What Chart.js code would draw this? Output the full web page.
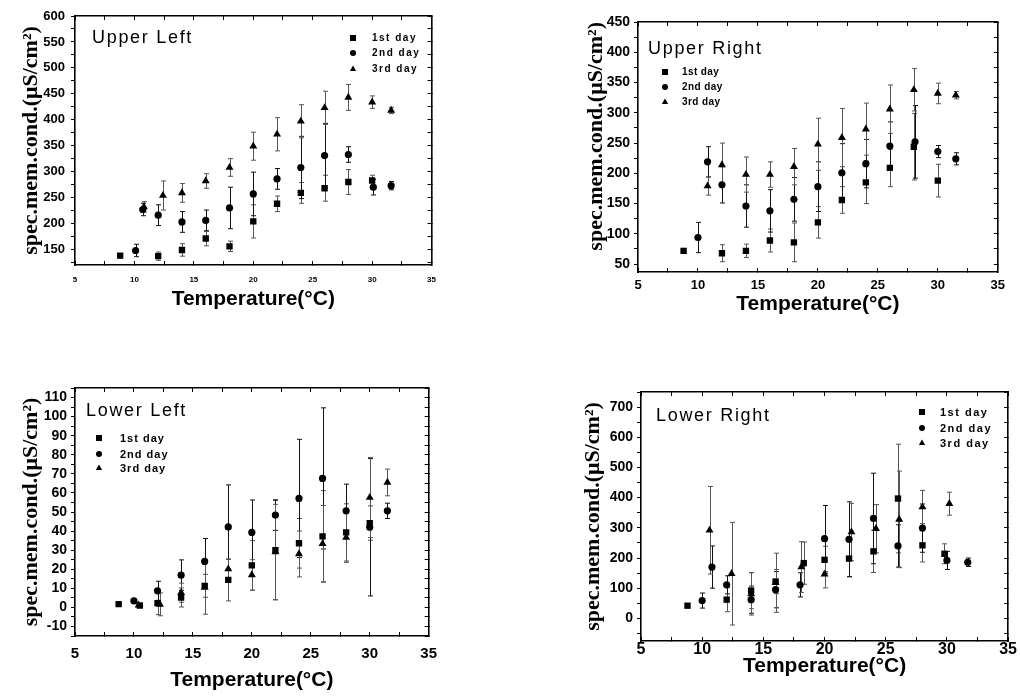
<!DOCTYPE html>
<html>
<head>
<meta charset="utf-8">
<script src="https://cdn.jsdelivr.net/npm/chart.js@4.4.0/dist/chart.umd.min.js"></script>
<style>
  html, body { margin: 0; padding: 0; background: #fff; }
  body { width: 1020px; height: 696px; overflow: hidden; position: relative; }
  canvas { position: absolute; }
</style>
</head>
<body>
<canvas id="ul" width="450" height="330" style="left:0px;top:0px;width:450px;height:330px"></canvas>
<canvas id="ur" width="460" height="340" style="left:555px;top:0px;width:460px;height:340px"></canvas>
<canvas id="ll" width="450" height="326" style="left:0px;top:370px;width:450px;height:326px"></canvas>
<canvas id="lr" width="465" height="326" style="left:555px;top:370px;width:465px;height:326px"></canvas>
<script>
// ---------------- DATA ----------------
const seriesNames = ['1st day', '2nd day', '3rd day'];
const panelNames = ['Upper Left', 'Upper Right', 'Lower Left', 'Lower Right'];
const xTitle = 'Temperature(°C)';
const yTitle = 'spec.mem.cond.(μS/cm²)';
const xTickLabels = [5, 10, 15, 20, 25, 30, 35];
const ulYTicks = [150, 200, 250, 300, 350, 400, 450, 500, 550, 600];
const urYTicks = [50, 100, 150, 200, 250, 300, 350, 400, 450];
const llYTicks = [-10, 0, 10, 20, 30, 40, 50, 60, 70, 80, 90, 100, 110];
const lrYTicks = [0, 100, 200, 300, 400, 500, 600, 700];

// Upper Left
const ulT1 = [8.8, 12, 14, 16, 18, 20, 22, 24, 26, 28, 30];
const ulY1 = [138, 137, 149, 171, 156, 204, 238, 259, 268, 280, 283];
const ulE1 = [4, 8, 12, 14, 10, 32, 15, 20, 25, 24, 10];
const ulT2 = [10.1, 10.7, 12, 14, 16, 18, 20, 22, 24, 26, 28, 30.1, 31.6];
const ulY2 = [148, 227, 216, 203, 206, 230, 257, 286, 308, 331, 333, 270, 273];
const ulE2 = [12, 12, 20, 20, 20, 40, 42, 20, 60, 62, 15, 15, 8];
const ulT3 = [10.8, 12.4, 14, 16, 18, 20, 22, 24, 26, 28, 30, 31.6];
const ulY3 = [232, 254, 259, 282, 308, 349, 372, 397, 423, 443, 434, 418];
const ulE3 = [10, 28, 18, 14, 17, 27, 32, 32, 32, 25, 12, 6];

// Upper Right
const urT1 = [8.8, 12, 14, 16, 18, 20, 22, 24, 26, 28, 30];
const urY1 = [72, 68, 72, 89, 86, 119, 156, 185, 209, 244, 188];
const urE1 = [4, 14, 11, 19, 32, 26, 22, 35, 31, 55, 27];
const urT2 = [10, 10.8, 12, 14, 16, 18, 20, 22, 24, 26, 28.1, 30, 31.5];
const urY2 = [94, 219, 181, 146, 138, 157, 178, 201, 216, 245, 252, 236, 224];
const urE2 = [25, 25, 30, 35, 35, 36, 41, 48, 40, 40, 60, 10, 10];
const urT3 = [10.8, 12, 14, 16, 18, 20, 22, 24, 26, 28, 30, 31.5];
const urY3 = [179, 214, 198, 198, 211, 248, 259, 273, 306, 338, 332, 329];
const urE3 = [15, 36, 29, 21, 30, 43, 48, 43, 40, 35, 17, 6];

// Lower Left
const llT1 = [8.7, 10.5, 12, 14, 16, 18, 20, 22, 24, 26, 28, 30];
const llY1 = [1.7, 1, 2.2, 5.2, 11.3, 14.4, 22, 30, 33.6, 37.2, 39.3, 44.2];
const llE1 = [0.5, 0.8, 6, 5, 6, 11, 13, 26, 13, 24, 15, 9];
const llT2 = [10, 12, 14, 16, 18, 20, 22, 24, 26, 28, 30, 31.5];
const llY2 = [3.4, 8.7, 16.9, 24.1, 42.2, 39.3, 48.4, 57.1, 67.6, 50.6, 42, 50.6];
const llE2 = [1, 5, 8, 12, 22, 17, 8, 31, 37, 14, 36, 4];
const llT3 = [10.4, 12.2, 14, 16, 18, 20, 22, 24, 26, 28, 30, 31.5];
const llY3 = [1.2, 1.6, 7.7, 10.4, 20.1, 17, 29, 28, 33.4, 36.6, 57.6, 65.5];
const llE3 = [0.6, 6, 5, 14, 5, 8, 25, 12, 20, 13, 21, 7];

// Lower Right
const lrT1 = [8.8, 12, 14, 16, 18.3, 20, 22, 24, 26, 28, 29.8];
const lrY1 = [42, 62, 92, 122, 183, 194, 198, 222, 397, 242, 214];
const lrE1 = [4, 40, 60, 40, 70, 45, 60, 70, 180, 55, 33];
const lrT2 = [10, 10.8, 12, 14, 16, 18, 20, 22, 24, 26, 28, 30, 31.7];
const lrY2 = [59, 170, 111, 62, 95, 111, 264, 262, 331, 240, 299, 192, 186];
const lrE2 = [25, 70, 30, 45, 60, 40, 110, 124, 150, 70, 80, 30, 14];
const lrT3 = [10.6, 12.4, 14, 16, 18.1, 20, 22.2, 24.2, 26.1, 28, 30.2];
const lrY3 = [292, 148, 81, 118, 170, 146, 286, 297, 328, 369, 380];
const lrE3 = [145, 170, 70, 98, 84, 45, 95, 80, 160, 55, 38];

// ---------------- RENDERING ----------------
Chart.defaults.font.family = '"Liberation Sans", Arial, sans-serif';
Chart.defaults.color = '#000';
Chart.defaults.animation = false;

const SANS = '"Liberation Sans", Arial, sans-serif';
const SERIF = '"Liberation Serif", "Times New Roman", serif';
const styles = ['rect', 'circle', 'triangle'];
const radii = [4.5, 3.6, 4.6];

function zip(xs, ys) { return xs.map((x, i) => ({ x: x, y: ys[i] })); }

function tickBuilder(majors, minorStep) {
  return function (scale) {
    const set = new Set();
    const start = Math.ceil(scale.min / minorStep - 1e-9) * minorStep;
    for (let v = start; v <= scale.max + 1e-9; v += minorStep) set.add(+v.toFixed(6));
    majors.forEach(m => set.add(m));
    scale.ticks = [...set].sort((a, b) => a - b).map(v => ({ value: v }));
  };
}

function drawMarker(ctx, style, x, y, r) {
  ctx.beginPath();
  if (style === 'rect') {
    ctx.rect(x - r, y - r, 2 * r, 2 * r);
  } else if (style === 'circle') {
    ctx.arc(x, y, r, 0, Math.PI * 2);
  } else {
    ctx.moveTo(x, y - r * 1.2);
    ctx.lineTo(x + r * 1.05, y + r * 0.7);
    ctx.lineTo(x - r * 1.05, y + r * 0.7);
    ctx.closePath();
  }
  ctx.fill();
}

const errorBars = {
  id: 'errorBars',
  beforeDatasetsDraw(chart) {
    const ctx = chart.ctx;
    const ys = chart.scales.y;
    ctx.save();
    ctx.lineWidth = 1;
    chart.data.datasets.forEach((ds, di) => {
      const meta = chart.getDatasetMeta(di);
      ctx.strokeStyle = di === 1 ? '#111' : '#555';
      ds.data.forEach((p, i) => {
        const e = ds.errors[i];
        const el = meta.data[i];
        const x = Math.round(el.x) + 0.5;
        const yt = ys.getPixelForValue(p.y + e);
        const yb = ys.getPixelForValue(p.y - e);
        ctx.beginPath();
        ctx.moveTo(x, yt); ctx.lineTo(x, yb);
        ctx.moveTo(x - 2.5, yt); ctx.lineTo(x + 2.5, yt);
        ctx.moveTo(x - 2.5, yb); ctx.lineTo(x + 2.5, yb);
        ctx.stroke();
      });
    });
    ctx.restore();
  }
};

const panelText = {
  id: 'panelText',
  afterDraw(chart, args, o) {
    const ctx = chart.ctx;
    ctx.save();
    ctx.fillStyle = '#000';
    ctx.font = '18px ' + SANS;
    if ('letterSpacing' in ctx) ctx.letterSpacing = '1.7px';
    ctx.textAlign = 'left';
    ctx.textBaseline = 'alphabetic';
    ctx.fillText(o.label, o.labelX, o.labelY);
    ctx.font = 'bold ' + o.legendFont + 'px ' + SANS;
    if ('letterSpacing' in ctx) ctx.letterSpacing = o.legendSpacing + 'px';
    ctx.textBaseline = 'middle';
    chart.data.datasets.forEach((ds, i) => {
      const y = o.legendY[i];
      drawMarker(ctx, ds.pointStyle, o.legendSymX, y, 3);
      ctx.fillText(ds.label, o.legendTextX, y + 0.5);
    });
    ctx.restore();
  }
};

function makePanel(id, p) {
  const datasets = p.series.map((s, i) => ({
    label: seriesNames[i],
    data: zip(s[0], s[1]),
    errors: s[2],
    pointStyle: styles[i],
    pointRadius: radii[i],
    pointHoverRadius: radii[i],
    backgroundColor: '#000',
    borderColor: '#000',
    borderWidth: 0,
    showLine: false
  }));
  const xMajors = xTickLabels;
  const gridBase = { drawOnChartArea: false, color: '#000', tickColor: '#000', lineWidth: 1 };
  const border = { display: true, color: '#000', width: 1.6 };
  new Chart(document.getElementById(id), {
    type: 'scatter',
    data: { datasets: datasets },
    options: {
      responsive: false,
      animation: false,
      events: [],
      layout: { padding: { top: p.padTop, right: p.padRight, left: 0, bottom: 0 } },
      plugins: {
        legend: { display: false },
        tooltip: { enabled: false },
        panelText: p.text
      },
      scales: {
        x: {
          type: 'linear', position: 'bottom', min: 5, max: 35,
          afterBuildTicks: tickBuilder(xMajors, 2.5),
          afterFit: s => { s.height = p.xAxisH; },
          border: border,
          grid: Object.assign({}, gridBase, { tickLength: -4 }),
          ticks: {
            autoSkip: false, maxRotation: 0, padding: p.xTickPad,
            font: { size: p.xTickFont, weight: 'bold' },
            callback: v => xMajors.includes(v) ? String(v) : ''
          },
          title: {
            display: true, text: xTitle,
            font: { size: 21, weight: 'bold', family: SANS },
            padding: { top: 0, bottom: p.xTitlePad }
          }
        },
        x2: {
          type: 'linear', position: 'top', min: 5, max: 35,
          afterBuildTicks: tickBuilder(xMajors, 2.5),
          afterFit: s => { s.height = 0; },
          border: border,
          grid: Object.assign({}, gridBase, { tickLength: -4 }),
          ticks: { display: false }
        },
        y: {
          type: 'linear', position: 'left', min: p.yMin, max: p.yMax,
          afterBuildTicks: tickBuilder(p.yMajors, p.yMinor),
          afterFit: s => { s.width = p.yAxisW; },
          border: border,
          grid: Object.assign({}, gridBase, { tickLength: 4 }),
          ticks: {
            autoSkip: false, padding: p.yTickPad,
            font: { size: p.yTickFont, weight: 'bold' },
            callback: v => p.yMajors.includes(v) ? String(v) : ''
          },
          title: {
            display: true, text: yTitle, align: p.yTitleAlign,
            font: { size: 22, weight: 'bold', family: SERIF },
            padding: { top: p.yTitlePad, bottom: 0 }
          }
        },
        y2: {
          type: 'linear', position: 'right', min: p.yMin, max: p.yMax,
          afterBuildTicks: tickBuilder(p.yMajors, p.yMinor),
          afterFit: s => { s.width = 0; },
          border: border,
          grid: Object.assign({}, gridBase, { tickLength: -4 }),
          ticks: { display: false }
        }
      }
    },
    plugins: [errorBars, panelText]
  });
}

makePanel('ul', {
  series: [[ulT1, ulY1, ulE1], [ulT2, ulY2, ulE2], [ulT3, ulY3, ulE3]],
  yMin: 120, yMax: 600, yMajors: ulYTicks, yMinor: 25,
  padTop: 16, padRight: 9, yAxisW: 75, xAxisH: 65,
  xTickPad: 14, xTickFont: 8, yTickPad: 6, yTickFont: 13,
  xTitlePad: 18, yTitlePad: 18, yTitleAlign: 'center',
  text: { label: panelNames[0], labelX: 92, labelY: 43, legendFont: 10, legendSpacing: 1.5,
          legendSymX: 353, legendTextX: 372, legendY: [38, 53, 69] }
});

makePanel('ur', {
  series: [[urT1, urY1, urE1], [urT2, urY2, urE2], [urT3, urY3, urE3]],
  yMin: 37, yMax: 450, yMajors: urYTicks, yMinor: 25,
  padTop: 22, padRight: 13, yAxisW: 83, xAxisH: 68,
  xTickPad: 10, xTickFont: 13, yTickPad: 4, yTickFont: 14,
  xTitlePad: 23, yTitlePad: 28, yTitleAlign: 'end',
  text: { label: panelNames[1], labelX: 648 - 555, labelY: 54, legendFont: 10, legendSpacing: 0.4,
          legendSymX: 665 - 555, legendTextX: 682 - 555, legendY: [72, 87, 102] }
});

makePanel('ll', {
  series: [[llT1, llY1, llE1], [llT2, llY2, llE2], [llT3, llY3, llE3]],
  yMin: -15, yMax: 115, yMajors: llYTicks, yMinor: 5,
  padTop: 18, padRight: 10, yAxisW: 75, xAxisH: 60,
  xTickPad: 13, xTickFont: 15, yTickPad: 4, yTickFont: 14,
  xTitlePad: 3, yTitlePad: 18, yTitleAlign: 'center',
  text: { label: panelNames[2], labelX: 86, labelY: 416 - 370, legendFont: 11, legendSpacing: 1,
          legendSymX: 99, legendTextX: 120, legendY: [438 - 370, 454 - 370, 468 - 370] }
});

makePanel('lr', {
  series: [[lrT1, lrY1, lrE1], [lrT2, lrY2, lrE2], [lrT3, lrY3, lrE3]],
  yMin: -75, yMax: 750, yMajors: lrYTicks, yMinor: 50,
  padTop: 22, padRight: 11, yAxisW: 86, xAxisH: 55,
  xTickPad: 3, xTickFont: 16, yTickPad: 4, yTickFont: 14,
  xTitlePad: 17, yTitlePad: 25, yTitleAlign: 'center',
  text: { label: panelNames[3], labelX: 656 - 555, labelY: 421 - 370, legendFont: 11, legendSpacing: 1.5,
          legendSymX: 922 - 555, legendTextX: 940 - 555, legendY: [412 - 370, 428 - 370, 443 - 370] }
});
</script>
</body>
</html>
